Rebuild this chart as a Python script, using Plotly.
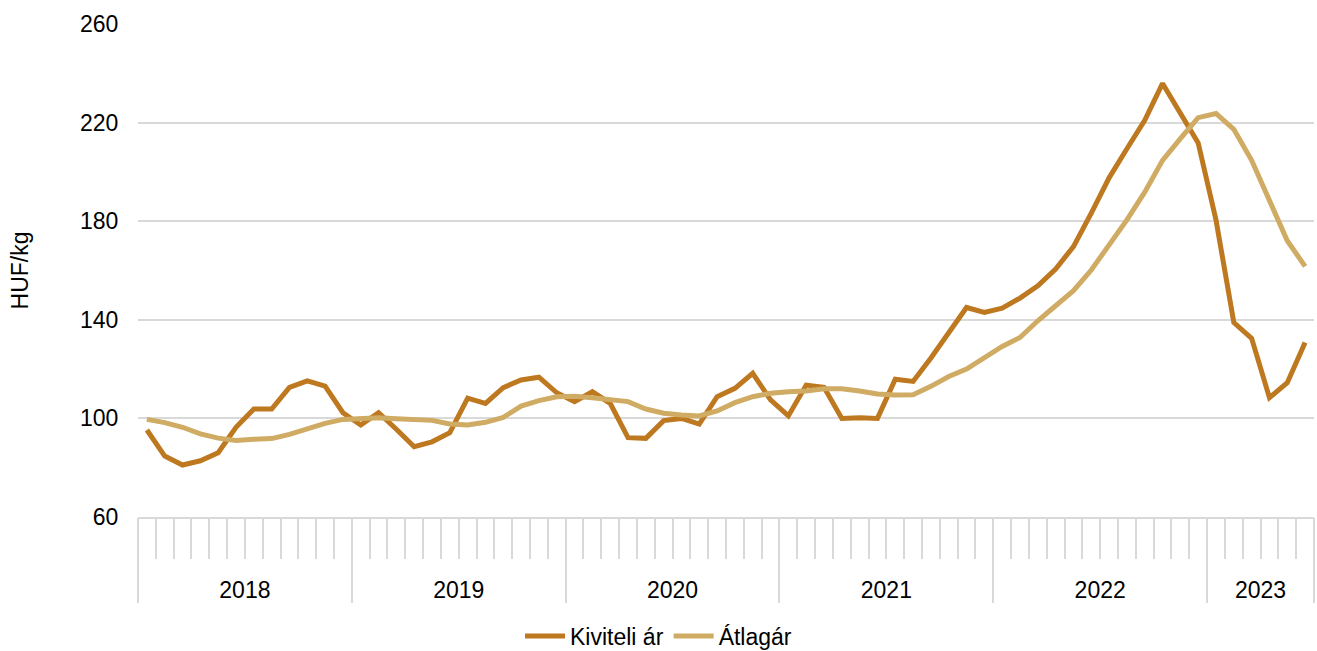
import plotly.graph_objects as go

# ---- data ----
years = [2018, 2019, 2020, 2021, 2022, 2023]
months_per_year = [12, 12, 12, 12, 12, 6]

kiviteli_ar = [95.3, 84.7, 81.1, 82.8, 86.1, 96.4, 103.8, 103.8, 112.6, 115.2, 113.1, 102.3,
               97.3, 102.3, 95.6, 88.5, 90.5, 94.2, 108.2, 106.1, 112.5, 115.6, 116.7, 110.4,
               106.8, 110.8, 106.1, 92.2, 91.9, 99.1, 100.0, 97.7, 108.8, 112.2, 118.3, 107.5,
               101.0, 113.5, 112.6, 100.0, 100.3, 100.0, 115.9, 115.0, 124.5, 135.0, 145.0, 143.0,
               144.7, 148.8, 153.8, 160.6, 169.7, 183.3, 197.6, 209.4, 220.9, 235.9, 223.7, 211.7,
               180.5, 138.9, 132.5, 108.4, 114.5, 130.8]

atlagar = [99.6, 98.3, 96.4, 93.7, 92.0, 91.0, 91.5, 91.8, 93.5, 96.0, 98.0, 99.6,
           100.0, 100.3, 99.9, 99.6, 99.2, 97.7, 97.3, 98.4, 100.4, 105.0, 107.2, 108.8,
           109.0, 108.4, 107.7, 106.8, 103.8, 102.1, 101.4, 101.0, 103.0, 106.4, 108.8, 110.2,
           110.8, 111.1, 112.0, 112.0, 111.1, 109.9, 109.5, 109.6, 113.0, 117.0, 120.0, 124.4,
           129.2, 132.8, 139.6, 145.7, 151.8, 160.2, 170.1, 180.5, 191.8, 204.7, 213.5, 222.0,
           223.7, 217.3, 204.7, 188.4, 172.1, 161.7]

y_ticks = [60, 100, 140, 180, 220, 260]

# ---- derived positions ----
n = sum(months_per_year)
x_idx = list(range(n))
month_bounds = [i - 0.5 for i in range(n + 1)]
year_bounds = [-0.5]
for m in months_per_year:
    year_bounds.append(year_bounds[-1] + m)
year_centers = [(year_bounds[k] + year_bounds[k + 1]) / 2 for k in range(len(years))]

FONT = "Liberation Sans, Arial, sans-serif"
GRID = "#d9d9d9"
C_DARK = "#BD7820"
C_LIGHT = "#CFAB63"
xr = [-0.5, n - 0.5]

fig = go.Figure()
fig.add_trace(go.Scatter(x=x_idx, y=kiviteli_ar, mode="lines", name="Kiviteli ár",
                         line=dict(color=C_DARK, width=5)))
fig.add_trace(go.Scatter(x=x_idx, y=atlagar, mode="lines", name="Átlagár",
                         line=dict(color=C_LIGHT, width=5)))
# empty helper traces so the overlay axes exist
fig.add_trace(go.Scatter(x=[], y=[], xaxis="x2", showlegend=False, hoverinfo="skip"))
fig.add_trace(go.Scatter(x=[], y=[], xaxis="x3", showlegend=False, hoverinfo="skip"))

fig.update_layout(
    width=1317, height=651,
    margin=dict(l=138, r=3, t=24, b=134),
    paper_bgcolor="white", plot_bgcolor="white",
    font=dict(family=FONT, size=23, color="#000000"),
    showlegend=True,
    legend=dict(orientation="h", xref="container", yref="container",
                x=0.5, xanchor="center", y=0.023, yanchor="middle",
                font=dict(size=23), itemwidth=40, tracegroupgap=0),
    hovermode=False,
    xaxis=dict(range=xr, showgrid=False, zeroline=False, showline=True,
               linecolor=GRID, linewidth=1.5,
               tickmode="array", tickvals=month_bounds, ticks="outside",
               ticklen=40, tickwidth=1.5, tickcolor=GRID, showticklabels=False),
    xaxis2=dict(range=xr, overlaying="x", anchor="y", side="bottom",
                showgrid=False, zeroline=False, showline=False,
                tickmode="array", tickvals=year_bounds, ticks="outside",
                ticklen=85, tickwidth=1.5, tickcolor=GRID, showticklabels=False),
    xaxis3=dict(range=xr, overlaying="x", anchor="y", side="bottom",
                showgrid=False, zeroline=False, showline=False,
                tickmode="array", tickvals=year_centers, ticktext=[str(y) for y in years],
                ticks="outside", ticklen=52, tickcolor="rgba(0,0,0,0)",
                tickfont=dict(size=23, color="#000000")),
    yaxis=dict(range=[60, 260], tickmode="array", tickvals=y_ticks,
               showgrid=True, gridcolor=GRID, gridwidth=1.5, zeroline=False,
               showline=False, ticks="outside", ticklen=14, tickcolor="rgba(0,0,0,0)",
               tickfont=dict(size=23),
               title=dict(text="HUF/kg", font=dict(size=23), standoff=44)),
)

fig.write_html(
    "out.html",
    config={"displayModeBar": False},
    post_script="document.body.style.margin='0';document.body.style.overflow='hidden';",
)
